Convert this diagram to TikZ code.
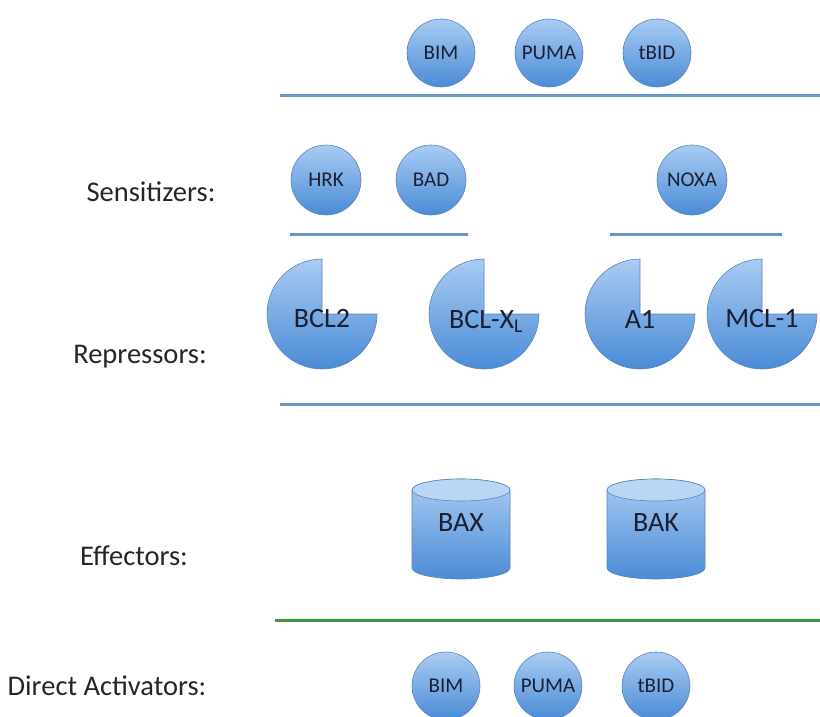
\documentclass[tikz,border=0pt]{standalone}
\usepackage{fontspec}
\setmainfont{Carlito}
\usetikzlibrary{calc}
\definecolor{blueT}{HTML}{A9CCF3}
\definecolor{blueB}{HTML}{4A8BD6}
\definecolor{blueE}{HTML}{5A84BE}
\definecolor{lineB}{HTML}{6E94C6}
\definecolor{lineG}{HTML}{3C963A}
\definecolor{txtD}{HTML}{1B1F33}
\tikzset{
  x=1pt,y=-1pt,
  ball/.style={circle,minimum size=68pt,inner sep=0pt,draw=blueE,line width=0.6pt,
    top color=blueT,bottom color=blueB,text=txtD,font=\fontsize{21}{21}\selectfont},
  sep/.style={draw=lineB,line width=3pt},
  sepg/.style={draw=lineG,line width=3pt},
  lbl/.style={font=\fontsize{28.5}{28.5}\selectfont,text=black!85},
  big/.style={font=\fontsize{28}{28}\selectfont,text=txtD},
  shapefill/.style={draw=blueE,line width=0.6pt,top color=blueT,bottom color=blueB}
}
\begin{document}
\begin{tikzpicture}
\useasboundingbox (0,0) rectangle (820,717);
% top row
\node[ball] (bim1) at (441,53) {BIM};
\node[ball] (puma1) at (549,53) {PUMA};
\node[ball] (tbid1) at (657,53) {tBID};
\coordinate (l1a) at (280,96); \coordinate (l1b) at (820,96);
\draw[sep] (l1a) -- (l1b);
% sensitizers
\node[lbl] (sens) at (151,192) {Sensitizers:};
\node[ball,minimum size=70pt] (hrk) at (326,180) {HRK};
\node[ball,minimum size=70pt] (bad) at (431,180) {BAD};
\node[ball,minimum size=70pt] (noxa) at (692,180) {NOXA};
\coordinate (l2a) at (290,234); \coordinate (l2b) at (468,234);
\coordinate (l2c) at (610,234); \coordinate (l2d) at (782,234);
\draw[sep] (l2a) -- (l2b);
\draw[sep] (l2c) -- (l2d);
% repressors
\node[lbl] (rep) at (140,357) {Repressors:};
\foreach \n/\cx in {p1/322,p2/484,p3/640,p4/762}{
  \coordinate (\n) at (\cx,314);
  \path[shapefill] (\n) -- ++(55,0) arc[start angle=0,end angle=270,radius=55] -- cycle;
}
\node[big] (bcl2) at ($(p1)+(0,5)$) {BCL2};
\node[big] (bclx) at ($(p2)+(2,7)$) {BCL-X\textsubscript{L}};
\node[big] (a1) at ($(p3)+(0,5)$) {A1};
\node[big] (mcl) at ($(p4)+(0,5)$) {MCL-1};
\coordinate (l3a) at (280,404); \coordinate (l3b) at (820,404);
\draw[sep] (l3a) -- (l3b);
% effectors
\node[lbl] (eff) at (134,556) {Effectors:};
\foreach \n/\cx in {c1/461,c2/656}{
  \coordinate (\n) at (\cx,490);
  \path[shapefill] ($(\n)+(-49,0)$) -- ++(0,78) arc[start angle=180,end angle=0,x radius=49,y radius=11] -- ++(0,-78) arc[start angle=0,end angle=-180,x radius=49,y radius=11] -- cycle;
  \path[draw=blueE,line width=0.6pt,fill=blueT!80!white] (\n) ellipse[x radius=49,y radius=11];
}
\node[big] (bax) at ($(c1)+(0,33)$) {BAX};
\node[big] (bak) at ($(c2)+(0,33)$) {BAK};
\coordinate (l4a) at (275,620); \coordinate (l4b) at (820,620);
\draw[sepg] (l4a) -- (l4b);
% direct activators
\node[lbl] (dir) at (107,686) {Direct Activators:};
\node[ball] (bim2) at (446,686) {BIM};
\node[ball] (puma2) at (548,686) {PUMA};
\node[ball] (tbid2) at (656,686) {tBID};
\end{tikzpicture}
\end{document}
